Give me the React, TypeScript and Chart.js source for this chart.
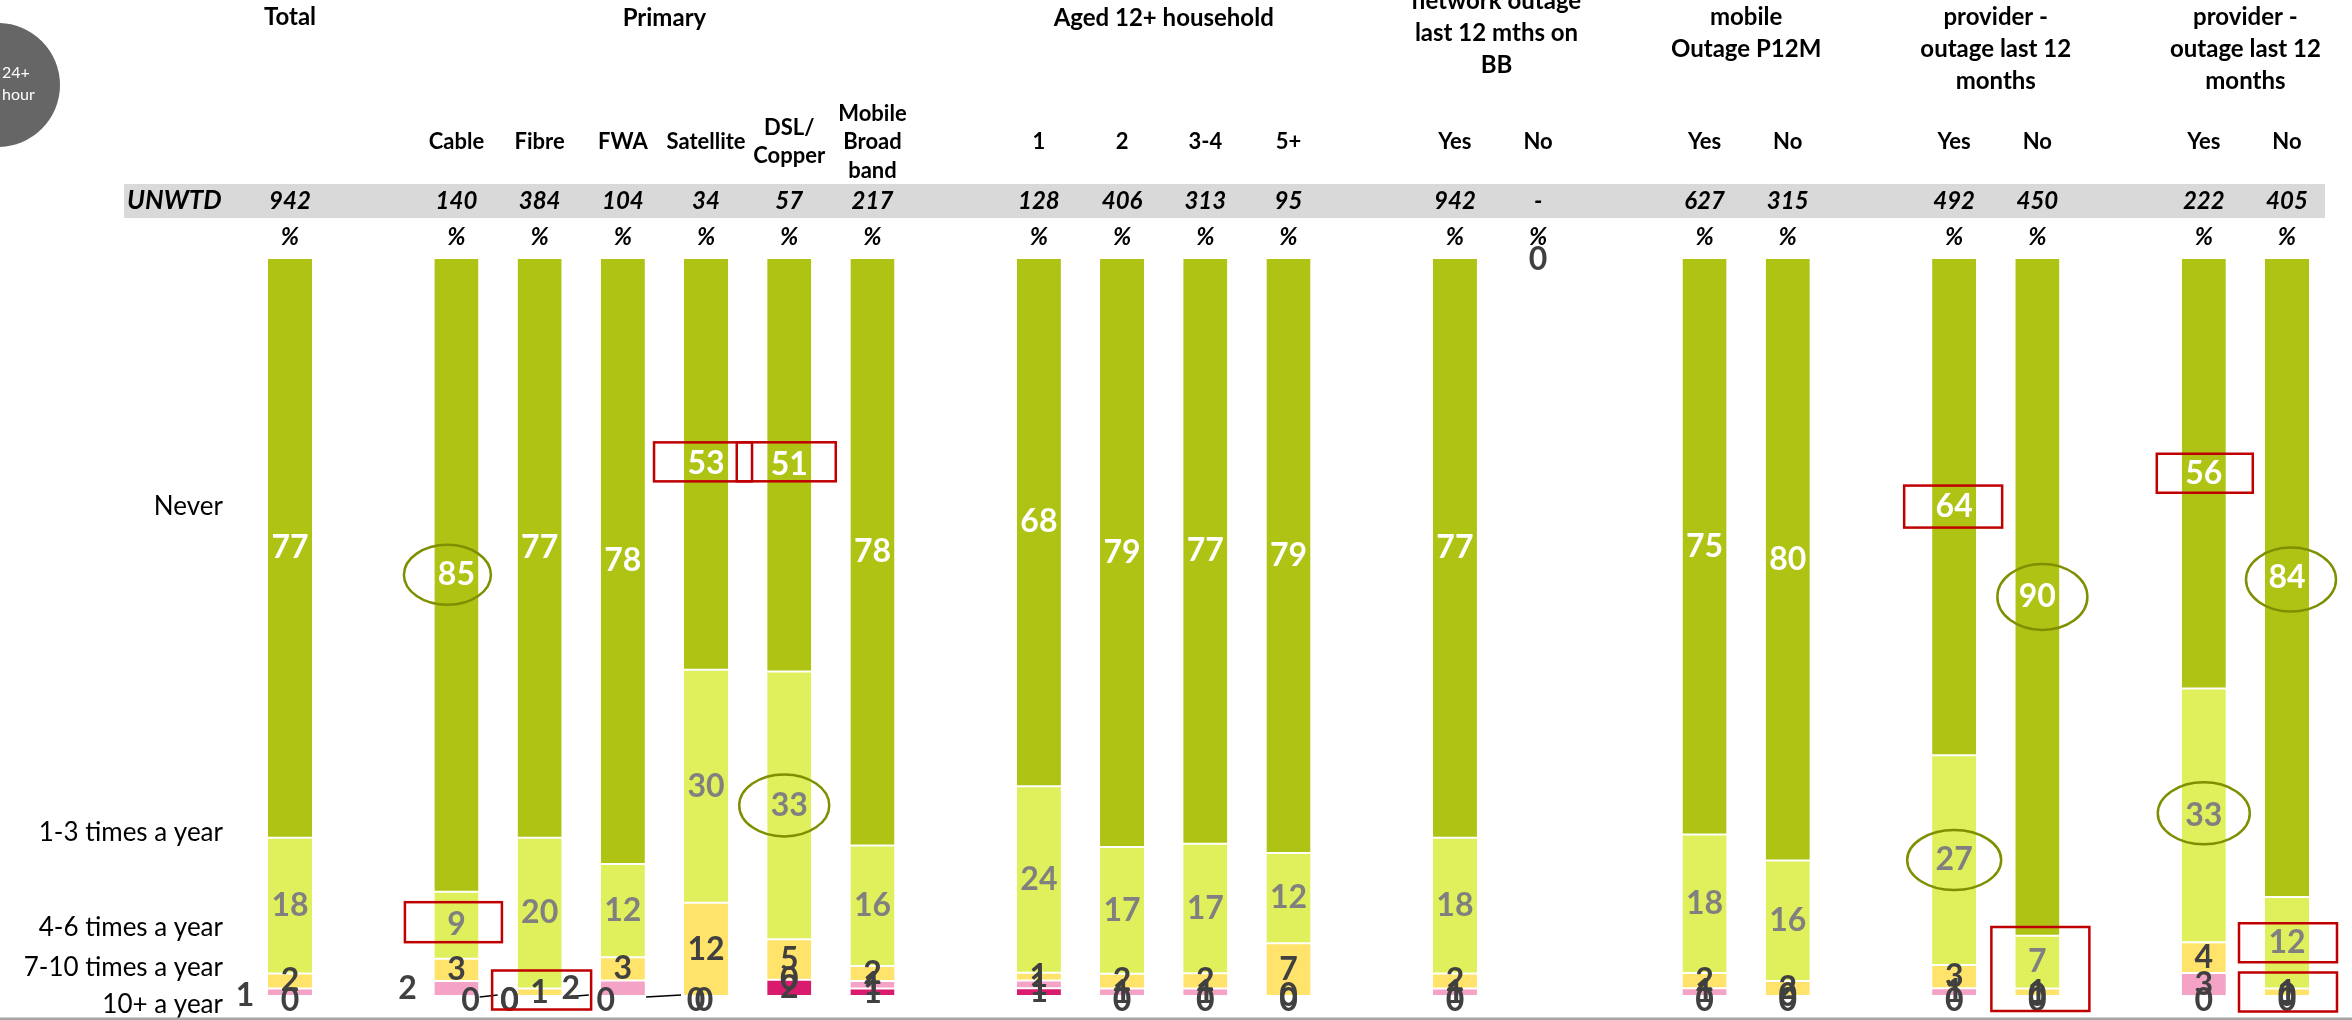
import React, { useEffect, useRef } from 'react';
import { Chart, registerables } from 'chart.js';

Chart.register(...registerables);

// ---------------- DATA ----------------
const categories = [
  'Total', '', 'Cable', 'Fibre', 'FWA', 'Satellite', 'DSL/\nCopper', 'Mobile\nBroad\nband', '',
  '1', '2', '3-4', '5+', '', 'Yes', 'No', '', 'Yes', 'No', '', 'Yes', 'No', '', 'Yes', 'No',
];

const groupNames = [
  ['Total'],
  ['Primary'],
  ['Aged 12+ household'],
  ['network outage', 'last 12 mths on', 'BB'],
  ['mobile', 'Outage P12M'],
  ['provider -', 'outage last 12', 'months'],
  ['provider -', 'outage last 12', 'months'],
];
const groupRanges = [[0, 0], [2, 7], [9, 12], [14, 15], [17, 18], [20, 21], [23, 24]];

const unweighted = ['942', '', '140', '384', '104', '34', '57', '217', '', '128', '406', '313', '95', '',
  '942', '-', '', '627', '315', '', '492', '450', '', '222', '405'];

const seriesNames = ['10+ a year', '7-10 times a year', '4-6 times a year', '1-3 times a year', 'Never'];

const tenPlus = [0, null, 0, 0, 0, 0, 2, 1, null, 1, 0, 0, 0, null, 0, 0, null, 0, 0, null, 0, 0, null, 0, 0];
const sevenToTen = [1, null, 2, 0, 2, 0, 0, 1, null, 1, 1, 1, 0, null, 1, 0, null, 1, 0, null, 1, 0, null, 3, 0];
const fourToSix = [2, null, 3, 1, 3, 12, 5, 2, null, 1, 2, 2, 7, null, 2, 0, null, 2, 2, null, 3, 1, null, 4, 1];
const oneToThree = [18, null, 9, 20, 12, 30, 33, 16, null, 24, 17, 17, 12, null, 18, 0, null, 18, 16, null, 27, 7, null, 33, 12];
const never = [77, null, 85, 77, 78, 53, 51, 78, null, 68, 79, 77, 79, null, 77, 0, null, 75, 80, null, 64, 90, null, 56, 84];

// ---------------- STYLE ----------------
const FONT = 'Lato, "Open Sans", sans-serif';
const seriesColors = ['#D81B6C', '#F4A3C7', '#FFE36B', '#DFF05C', '#AFC314'];
const labelColors = ['#404040', '#404040', '#404040', '#808080', '#FFFFFF'];
const legendLevels = [-1.1, 3.8, 9.2, 22.1, 66.3];
const groupTop = [17, 18, 18, 1, 17, 17, 17];

const labelTweaks = [
  { i: 0, ds: 1, dx: -45, dy: 3 },
  { i: 2, ds: 1, dx: -49, dy: 0 },
  { i: 2, ds: 0, dx: 14, dy: 5 },
  { i: 3, ds: 1, dx: -30, dy: 5, leader: [-60, -42] },
  { i: 3, ds: 0, dx: -30, dy: 5 },
  { i: 4, ds: 1, dx: -52, dy: 0, leader: [-59, -34] },
  { i: 4, ds: 0, dx: -17, dy: 5 },
  { i: 5, ds: 1, dx: -10, dy: 5, leader: [-60, -25] },
  { i: 5, ds: 0, dx: -2, dy: 5 },
];

const annotations = [
  { shape: 'rect', i: 2, ds: 3, dx: -3, dy: -3, w: 97, h: 40 },
  { shape: 'rect', i: 3, ds: 'base', dx: 2, dy: -6, w: 99, h: 39 },
  { shape: 'rect', i: 5, ds: 4, dx: -3, dy: -2, w: 98, h: 39 },
  { shape: 'rect', i: 6, ds: 4, dx: -3, dy: -3, w: 99, h: 39 },
  { shape: 'rect', i: 20, ds: 4, dx: -1, dy: 0, w: 98, h: 42 },
  { shape: 'rect', i: 21, ds: 'base', dx: 3, dy: -27, w: 98, h: 84 },
  { shape: 'rect', i: 23, ds: 4, dx: 1, dy: 0, w: 96, h: 39 },
  { shape: 'rect', i: 24, ds: 3, dx: 1, dy: 0, w: 98, h: 39 },
  { shape: 'rect', i: 24, ds: 'base', dx: 1, dy: -4, w: 98, h: 39 },
  { shape: 'ellipse', i: 2, ds: 4, dx: -9, dy: 0, w: 87, h: 60 },
  { shape: 'ellipse', i: 6, ds: 3, dx: -5, dy: 0, w: 90, h: 62 },
  { shape: 'ellipse', i: 20, ds: 3, dx: 0, dy: 0, w: 94, h: 60 },
  { shape: 'ellipse', i: 21, ds: 4, dx: 5, dy: 0, w: 90, h: 66 },
  { shape: 'ellipse', i: 23, ds: 3, dx: 0, dy: -2, w: 92, h: 62 },
  { shape: 'ellipse', i: 24, ds: 4, dx: 4, dy: 2, w: 90, h: 64 },
];

const rawSeries = [tenPlus, sevenToTen, fourToSix, oneToThree, never];
const totals = categories.map((_, i) => rawSeries.reduce((s, arr) => s + (arr[i] ?? 0), 0));

const decorPlugin = {
  id: 'decor',
  beforeDraw(chart: any) {
    const ctx = chart.ctx;
    ctx.save();
    ctx.fillStyle = '#ffffff';
    ctx.fillRect(0, 0, chart.width, chart.height);
    ctx.restore();
  },
  afterDraw(chart: any) {
    const ctx = chart.ctx;
    const xs = chart.scales.x;
    const ys = chart.scales.y;
    const px = (i: number) => xs.getPixelForValue(i);
    ctx.save();

    // circle badge
    ctx.fillStyle = '#666666';
    ctx.beginPath();
    ctx.arc(-2, 85, 62, 0, Math.PI * 2);
    ctx.fill();
    ctx.fillStyle = '#ffffff';
    ctx.font = `16px ${FONT}`;
    ctx.textAlign = 'left';
    ctx.textBaseline = 'middle';
    ctx.fillText('24+', 2, 73);
    ctx.fillText('hour', 2, 95);

    // group titles
    ctx.fillStyle = '#000000';
    ctx.textAlign = 'center';
    ctx.font = `bold 24px ${FONT}`;
    groupNames.forEach((lines, g) => {
      const [a, b] = groupRanges[g];
      const cx = (px(a) + px(b)) / 2;
      lines.forEach((t, k) => ctx.fillText(t, cx, groupTop[g] + k * 32));
    });

    // column labels
    ctx.font = `bold 22px ${FONT}`;
    categories.forEach((c, i) => {
      if (!c) return;
      const single = groupRanges.some(([a, b]) => a === i && b === i);
      if (single) return;
      const lines = c.split('\n');
      lines.forEach((t, k) => ctx.fillText(t, px(i), 142 + (k - (lines.length - 1) / 2) * 28.5));
    });

    // UNWTD band
    ctx.fillStyle = '#D9D9D9';
    ctx.fillRect(124, 184, 2325 - 124, 34);
    ctx.fillStyle = '#000000';
    ctx.font = `italic bold 26px ${FONT}`;
    ctx.textAlign = 'left';
    ctx.fillText('UNWTD', 127, 201);
    ctx.textAlign = 'center';
    ctx.font = `italic bold 24px ${FONT}`;
    unweighted.forEach((u, i) => {
      if (!u) return;
      ctx.fillText(u, px(i), 201);
      ctx.fillText('%', px(i), 237);
    });

    // row labels on the left
    ctx.font = `26px ${FONT}`;
    ctx.textAlign = 'right';
    ctx.fillStyle = '#000000';
    seriesNames.forEach((n, d) => {
      ctx.fillText(n, 223, ys.getPixelForValue(legendLevels[d]));
    });

    // data labels
    ctx.font = `bold 32px ${FONT}`;
    ctx.textAlign = 'center';
    ctx.textBaseline = 'middle';
    const labelPos: any = {};
    rawSeries.forEach((arr, d) => {
      const meta = chart.getDatasetMeta(d);
      meta.data.forEach((el: any, i: number) => {
        const raw = arr[i];
        if (raw == null || totals[i] === 0) return;
        const p = el.getProps(['x', 'y', 'base'], true);
        let lx = p.x;
        let ly = (p.y + p.base) / 2;
        if (raw === 0 && d === 0) ly += 5;
        const tw = labelTweaks.find((t) => t.i === i && t.ds === d);
        if (tw) {
          lx = p.x + tw.dx;
          ly = (p.y + p.base) / 2 + tw.dy;
          if (tw.leader) {
            ctx.strokeStyle = '#000000';
            ctx.lineWidth = 1.5;
            ctx.beginPath();
            ctx.moveTo(p.x + tw.leader[0], ys.getPixelForValue(0) + 1);
            ctx.lineTo(p.x + tw.leader[1], ys.getPixelForValue(0) - 1);
            ctx.stroke();
          }
        }
        labelPos[`${i}-${d}`] = { x: p.x, y: (p.y + p.base) / 2 };
        ctx.fillStyle = labelColors[d];
        ctx.fillText(String(Math.round(raw)), lx, ly);
      });
    });
    // empty column label
    totals.forEach((t, i) => {
      if (t === 0 && categories[i]) {
        ctx.fillStyle = '#404040';
        ctx.fillText('0', px(i), ys.getPixelForValue(100) + 2);
      }
    });

    // annotations
    annotations.forEach((a) => {
      let cx: number;
      let cy: number;
      if (a.ds === 'base') {
        cx = px(a.i);
        cy = ys.getPixelForValue(0);
      } else {
        const lp = labelPos[`${a.i}-${a.ds}`];
        if (!lp) return;
        cx = lp.x;
        cy = lp.y;
      }
      cx += a.dx;
      cy += a.dy;
      ctx.lineWidth = 2.5;
      if (a.shape === 'rect') {
        ctx.strokeStyle = '#C00000';
        ctx.strokeRect(cx - a.w / 2, cy - a.h / 2, a.w, a.h);
      } else {
        ctx.strokeStyle = '#7F8F00';
        ctx.beginPath();
        ctx.ellipse(cx, cy, a.w / 2, a.h / 2, 0, 0, Math.PI * 2);
        ctx.stroke();
      }
    });

    // bottom rule
    ctx.fillStyle = '#A6A6A6';
    ctx.fillRect(0, 1017.5, chart.width, 2.5);
    ctx.restore();
  },
};

export default function App() {
  const ref = useRef<HTMLCanvasElement | null>(null);
  useEffect(() => {
    document.body.style.margin = '0';
    document.body.style.overflow = 'hidden';
    const canvas = ref.current;
    if (!canvas) return;
    const chart = new Chart(canvas, {
      type: 'bar',
      data: {
        labels: categories,
        datasets: rawSeries.map((arr, d) => ({
          label: seriesNames[d],
          data: arr.map((v, i) => (v == null ? null : totals[i] > 0 ? (v / totals[i]) * 100 : 0)),
          backgroundColor: seriesColors[d],
          borderColor: '#ffffff',
          borderWidth: { top: 1, bottom: 1, left: 0, right: 0 },
          borderSkipped: false,
          barPercentage: 0.53,
          categoryPercentage: 1,
        })),
      },
      options: {
        responsive: false,
        animation: false,
        devicePixelRatio: 1,
        layout: { padding: { left: 248.4, right: 23.4, top: 258, bottom: 24 } },
        plugins: { legend: { display: false }, tooltip: { enabled: false }, title: { display: false } },
        scales: {
          x: { stacked: true, display: false, offset: true },
          y: { stacked: true, display: false, min: 0, max: 100 },
        },
      },
      plugins: [decorPlugin],
    });
    return () => chart.destroy();
  }, []);
  return <canvas ref={ref} width={2352} height={1020} style={{ display: 'block', width: 2352, height: 1020 }} />;
}
